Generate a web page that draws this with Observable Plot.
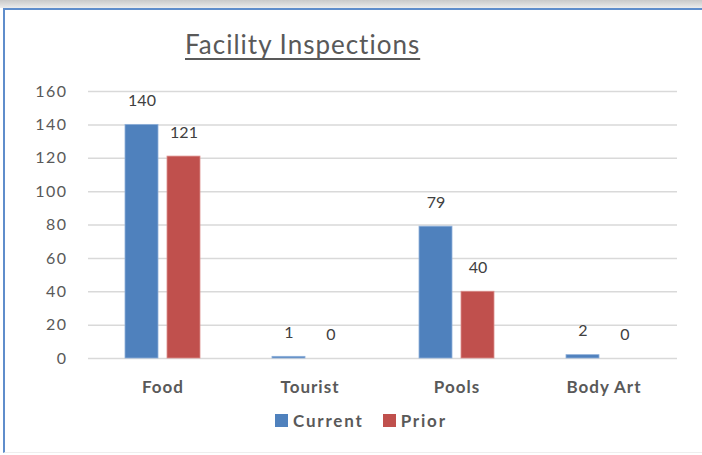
<!DOCTYPE html>
<html>
<head>
<meta charset="utf-8">
<script src="https://cdn.jsdelivr.net/npm/d3@7"></script>
<script src="https://cdn.jsdelivr.net/npm/@observablehq/plot@0.6"></script>
<style>
  html, body { margin: 0; padding: 0; background: #fff; width: 702px; height: 455px; overflow: hidden; font-family: Lato, "Open Sans", sans-serif; }
  #strip { position: absolute; left: 0; top: 0; width: 702px; height: 8px; background: linear-gradient(#c9c9c9, #ececec); }
  #frame { position: absolute; left: 3px; top: 8px; width: 699px; height: 445px; border-top: 2px solid #5f8dcb; border-left: 2px solid #5f8dcb; border-bottom: 1px solid #eeeeee; box-sizing: border-box; }
  #title { position: absolute; left: 185px; top: 28px; font-size: 26px; letter-spacing: 1px; color: #595959; text-decoration: underline; text-underline-offset: 4px; text-decoration-thickness: 1.5px; white-space: nowrap; font-variant-ligatures: none; }
  #chart { position: absolute; left: 0; top: 68px; }
  #legend { position: absolute; left: 275px; top: 410px; display: flex; align-items: center; font-size: 17px; font-weight: bold; color: #595959; letter-spacing: 1.8px; white-space: nowrap; }
  .sw { display: inline-block; width: 13px; height: 13px; margin-right: 5px; }
</style>
</head>
<body>
<div id="strip"></div>
<div id="frame"></div>
<div id="title">Facility Inspections</div>
<div id="chart"></div>
<div id="legend"></div>
<script>
const categories = ["Food", "Tourist", "Pools", "Body Art"];
const seriesNames = ["Current", "Prior"];
const currentValues = [140, 1, 79, 2];
const priorValues = [121, 0, 40, 0];
const yTicks = [0, 20, 40, 60, 80, 100, 120, 140, 160];
const colors = {Current: "#4f81bd", Prior: "#c0504d"};

const currentData = categories.map((c, i) => ({category: c, series: "Current", value: currentValues[i]}));
const priorData = categories.map((c, i) => ({category: c, series: "Prior", value: priorValues[i]}));

const chart = Plot.plot({
  width: 702,
  height: 332,
  marginLeft: 88,
  marginRight: 25,
  marginTop: 23,
  marginBottom: 42,
  style: {fontFamily: "Lato, sans-serif", background: "transparent", overflow: "visible"},
  x: {domain: categories, padding: 0, label: null, tickSize: 0, tickPadding: 22},
  y: {domain: [0, 160], ticks: yTicks, label: null, tickSize: 0, tickPadding: 21},
  marks: [
    Plot.ruleY(yTicks, {stroke: "#d9d9d9", strokeWidth: 1.5}),
    Plot.barY(currentData, {x: "category", y: "value", fill: colors.Current, stroke: "#8eb0da", strokeWidth: 0.8, insetLeft: 36, insetRight: 78}),
    Plot.barY(priorData, {x: "category", y: "value", fill: colors.Prior, stroke: "#dc8e8c", strokeWidth: 0.8, insetLeft: 78, insetRight: 36}),
    Plot.text(currentData, {x: "category", y: "value", text: d => String(d.value), dx: -21, dy: -24, fill: "#404040", fontSize: 16, letterSpacing: 1.2}),
    Plot.text(priorData, {x: "category", y: "value", text: d => String(d.value), dx: 21, dy: -24, fill: "#404040", fontSize: 16, letterSpacing: 1.2})
  ]
});

chart.querySelectorAll("[aria-label='y-axis tick label']").forEach(el => {
  el.setAttribute("font-size", "16");
  el.setAttribute("fill", "#595959");
  el.setAttribute("letter-spacing", "1.5");
});
chart.querySelectorAll("[aria-label='x-axis tick label']").forEach(el => {
  el.setAttribute("font-size", "17");
  el.setAttribute("font-weight", "bold");
  el.setAttribute("fill", "#595959");
  el.setAttribute("letter-spacing", "1");
});
document.getElementById("chart").appendChild(chart);

const legend = document.getElementById("legend");
seriesNames.forEach((s, i) => {
  const item = document.createElement("span");
  item.style.display = "inline-flex";
  item.style.alignItems = "center";
  item.style.marginRight = i === 0 ? "19px" : "0";
  item.innerHTML = `<span class="sw" style="background:${colors[s]}"></span>${s}`;
  legend.appendChild(item);
});
</script>
</body>
</html>
